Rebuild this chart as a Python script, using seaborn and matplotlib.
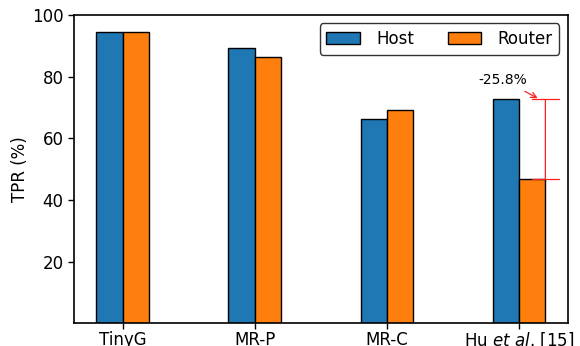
import matplotlib
matplotlib.use("Agg")
import matplotlib.pyplot as plt
import seaborn as sns
import pandas as pd

# Detection rates per method, measured on hosts and on routers
methods = ["TinyG", "MR-P", "MR-C", r"Hu $\it{et\ al}$. [15]"]
host_tpr = [94.6, 89.4, 66.3, 72.6]
router_tpr = [94.4, 86.3, 69.2, 46.8]
drop_label = "-25.8%"

sns.set_style("ticks", rc={
    "text.color": "black", "axes.labelcolor": "black",
    "xtick.color": "black", "ytick.color": "black",
    "axes.edgecolor": "black",
})
plt.rcParams["font.family"] = ["DejaVu Sans"]
plt.rcParams["font.size"] = 12

df = pd.DataFrame({
    "method": methods * 2,
    "tpr": host_tpr + router_tpr,
    "where": ["Host"] * len(methods) + ["Router"] * len(methods),
})

fig = plt.figure(figsize=(5.8, 3.46), dpi=100)
ax = fig.add_axes([0.1276, 0.0656, 0.8514, 0.891])

sns.barplot(data=df, x="method", y="tpr", hue="where", order=methods,
            palette=["#1f77b4", "#ff7f0e"], width=0.4, gap=0,
            edgecolor="black", linewidth=1, ax=ax, errorbar=None,
            saturation=1)

ax.set_xlim(-0.37, 3.37)
ax.set_ylim(0, 100)
ax.set_yticks([20, 40, 60, 80, 100])
ax.set_xlabel("")
ax.set_ylabel("TPR (%)", fontsize=12, labelpad=2)
ax.tick_params(labelsize=12, direction="out", length=4, width=1.0)
ax.tick_params(axis="x", pad=1.5)
for s in ax.spines.values():
    s.set_visible(True)
    s.set_color("black")
    s.set_linewidth(1.2)

leg = ax.legend(loc="upper right", ncol=2, fontsize=12, frameon=True,
                edgecolor="black", fancybox=True, columnspacing=2.0,
                handlelength=2.0, handletextpad=1.0)
leg.get_frame().set_linewidth(1.0)

# Gap between host and router for the last method
x_gap = 3.2
ax.annotate("", xy=(x_gap, host_tpr[3]), xytext=(x_gap, router_tpr[3]),
            arrowprops=dict(arrowstyle="|-|,widthA=0.8,widthB=0.8",
                            color="#ff2020", lw=0.9, shrinkA=0, shrinkB=0))
ax.annotate(drop_label, xy=(3.16, host_tpr[3]), xytext=(2.88, 79),
            ha="center", va="center", fontsize=10,
            arrowprops=dict(arrowstyle="->", color="#ff2020", lw=0.9))

fig.savefig("out.png", dpi=100)
